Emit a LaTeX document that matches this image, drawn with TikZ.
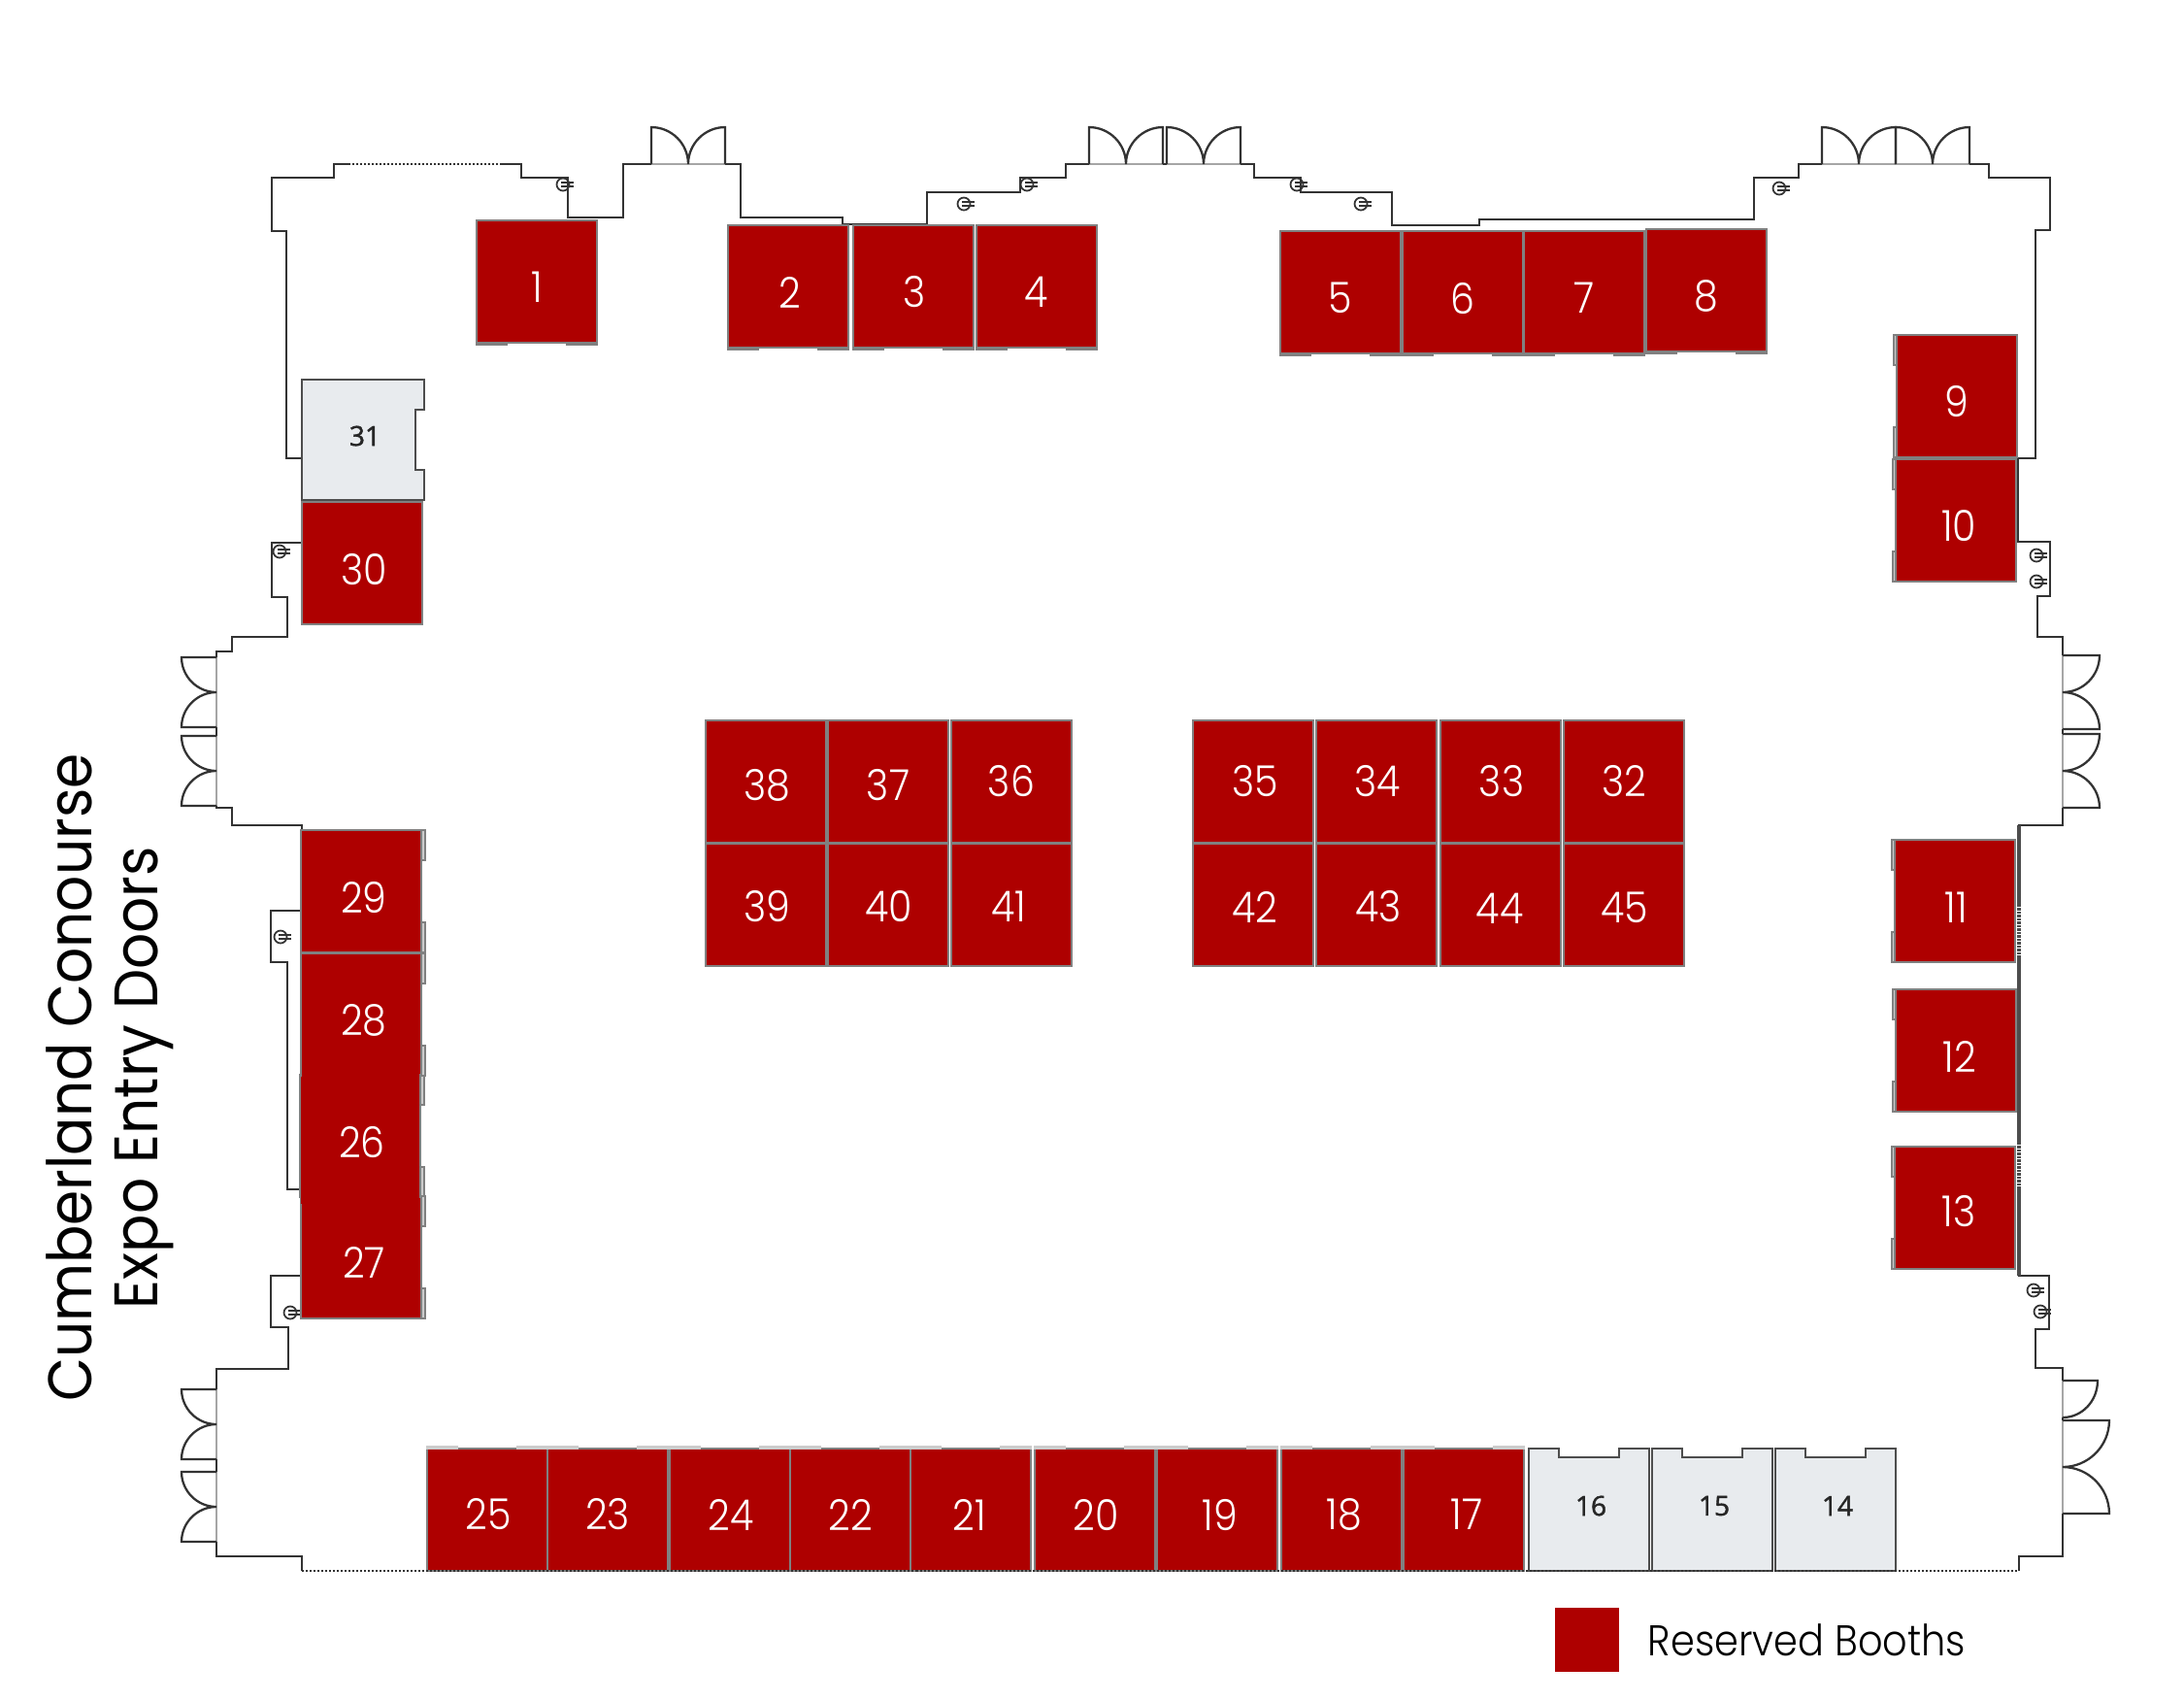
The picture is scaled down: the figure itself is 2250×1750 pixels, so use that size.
\documentclass[tikz,border=0pt]{standalone}
\usepackage{fontspec}
\usetikzlibrary{positioning}
\setmainfont{Poppins}[UprightFont=* Light, FakeStretch=0.9]
\newfontfamily\titlefont{Poppins}[FakeStretch=0.92]
\newfontfamily\graynumfont{Open Sans}[FakeBold=1.4]
\definecolor{boothred}{HTML}{AE0000}
\definecolor{boothgray}{HTML}{E8EBEE}
\definecolor{wallink}{HTML}{333333}
\definecolor{tabink}{HTML}{808080}
\tikzset{
  wall/.style      = {draw=wallink, line width=0.8pt, line join=miter},
  wallheavy/.style = {draw=tabink!60!black, line width=1.1pt},
  wallopen/.style  = {draw=wallink, line width=0.7pt, dash pattern=on 0.02cm off 0.02cm},
  wallhatch/.style = {draw=white, line width=1.6pt, dash pattern=on 0.01cm off 0.025cm},
  doorframe/.style = {draw=tabink!70, line width=0.8pt},
  doorleaf/.style  = {draw=wallink, line width=0.65pt},
  socket/.style    = {draw=wallink, line width=0.5pt},
  booth/.style     = {draw=tabink, line width=0.5pt, fill=boothred,
                      minimum width=1.24cm, minimum height=1.26cm, inner sep=0pt, outer sep=0pt},
  boothnum/.style  = {text=white, inner sep=0pt, font=\fontsize{12.5}{14}\selectfont},
  boothtab/.style  = {draw=tabink, line width=0.5pt, fill=tabink!40},
  boothtabfaint/.style = {draw=tabink!40, line width=0.5pt},
  openbooth/.style = {draw=tabink!60!black, line width=0.8pt, fill=boothgray},
  opennum/.style   = {text=black!85, inner sep=0pt, font=\graynumfont\fontsize{8}{10}\selectfont},
  legendbox/.style = {fill=boothred, minimum width=0.65cm, minimum height=0.66cm, inner sep=0pt},
  legendtext/.style= {inner sep=0pt, font=\fontsize{12.6}{14}\selectfont},
  sidetitle/.style = {rotate=90, align=center, inner sep=0pt, font=\titlefont\fontsize{18}{19.3}\selectfont}
}

\begin{document}
\begin{tikzpicture}[x=0.01cm, y=-0.01cm]
  \useasboundingbox (0,0) rectangle (2250,1750);

  % outer wall, clockwise from the end of the open stretch at the top
  \draw[wall] (517,169) -- (537,169) -- (537,183) -- (585,183) -- (585,224) -- (642,224)
    -- (642,169) -- (763,169) -- (763,224) -- (868,224) -- (868,231) -- (955,231)
    -- (955,198) -- (1051,198) -- (1051,183) -- (1098,183) -- (1098,169) -- (1292,169)
    -- (1292,183) -- (1340,183) -- (1340,198) -- (1434,198) -- (1434,232) -- (1524,232)
    -- (1524,226) -- (1807,226) -- (1807,183) -- (1853,183) -- (1853,169) -- (2049,169)
    -- (2049,183) -- (2112,183) -- (2112,237) -- (2097,237) -- (2097,472) -- (2079,472)
    -- (2079,558) -- (2112,558) -- (2112,614) -- (2099,614) -- (2099,656) -- (2125,656)
    -- (2125,850) -- (2080,850) -- (2080,1314) -- (2111,1314) -- (2111,1369) -- (2097,1369)
    -- (2097,1409) -- (2125,1409) -- (2125,1603) -- (2080,1603) -- (2080,1618);
  \draw[wall] (311,1618) -- (311,1603) -- (223,1603) -- (223,1410) -- (297,1410) -- (297,1367)
    -- (279,1367) -- (279,1314) -- (311,1314) -- (311,1225) -- (296,1225) -- (296,991)
    -- (279,991) -- (279,938) -- (311,938) -- (311,850) -- (239,850) -- (239,832) -- (223,832)
    -- (223,671) -- (239,671) -- (239,656) -- (296,656) -- (296,615) -- (280,615) -- (280,559)
    -- (311,559) -- (311,472) -- (295,472) -- (295,238) -- (280,238) -- (280,183) -- (344,183)
    -- (344,169) -- (359,169);
  \draw[wallheavy] (2080,850) -- (2080,1314);
  \draw[wallhatch] (2081,934) -- (2081,985);
  \draw[wallhatch] (2081,1179) -- (2081,1224);

  % double doors
  \foreach \dx/\dy/\rot/\rad in {709/169/180/38, 1160/169/180/38, 1240/169/180/38,
      1915/169/180/38, 1991/169/180/38, 223/713/-90/36, 223/794/-90/36, 223/1467/-90/36,
      223/1552/-90/36, 2125/713/90/38, 2125/794/90/38, 2125/1511/90/48}
  {
    \draw[doorframe, shift={(\dx,\dy)}, rotate=\rot] (-\rad,0) -- (\rad,0);
    \draw[doorleaf, shift={(\dx,\dy)}, rotate=\rot] (-\rad,0) -- (-\rad,\rad)
      .. controls (-.45*\rad,\rad) and (0,.55*\rad) .. (0,0)
      .. controls (0,.55*\rad) and (.45*\rad,\rad) .. (\rad,\rad) -- (\rad,0);
  }
  % the one single door
  \draw[doorframe] (2125,1422) -- (2125,1460);
  \draw[doorleaf] (2125,1422) -- (2161,1422) .. controls (2161,1443) and (2145,1460) .. (2125,1460);

  % wall sockets
  \foreach \sx/\sy in {580/190, 288/568, 1058/190, 993/210, 1336/190, 1402/210, 1833/194,
      2098/572, 2098/599, 2095/1329, 2102/1351, 289/965, 299/1352}
  {
    \draw[socket] (\sx,\sy) circle (6.5);
    \draw[socket] (\sx-2,\sy-2) -- (\sx+11,\sy-2);
    \draw[socket] (\sx-2,\sy+2) -- (\sx+11,\sy+2);
  }

  % reserved booths
  \foreach \n/\cx/\cy in {1/553/290, 2/812/295, 3/941/295, 4/1068/295,
      5/1381/301, 6/1507/301, 7/1632/301, 8/1758/299, 9/2016/408, 10/2015/536,
      11/2014/928, 12/2015/1082, 13/2014/1244,
      17/1508/1555, 18/1382/1555, 19/1254/1555, 20/1128/1555, 21/1000/1555,
      22/876/1555, 24/752/1555, 23/626/1555, 25/502/1555,
      26/371/1170, 27/372/1295, 28/372/1045, 29/372/918, 30/373/580,
      38/789/805, 37/915/805, 36/1042/805, 39/789/932, 40/915/932, 41/1042/932,
      35/1291/805, 34/1418/805, 33/1546/805, 32/1673/805,
      42/1291/932, 43/1418/932, 44/1546/932, 45/1673/932}
    \node[booth] (b\n) at (\cx,\cy) {};

  % no visible seam inside the run 28, 26, 27
  \fill[boothred] (b28.south west) ++(1,-8) rectangle ([xshift=-0.01cm,yshift=-0.08cm]b26.north east);
  \fill[boothred] (b26.south west) ++(1,-8) rectangle ([xshift=-0.01cm,yshift=-0.08cm]b27.north east);

  % the numbers sit a little off centre, each by its own amount
  \foreach \n/\tx/\ty in {1/0/6, 2/2/6, 3/1/6, 4/0/6, 5/0/6, 6/0/6, 7/0/6, 8/0/6, 9/0/6, 10/3/6,
      11/1/7, 12/4/6, 13/4/4, 17/3/5, 18/3/5, 19/3/5, 20/1/5, 21/-1/5, 22/0/5, 24/1/5, 23/0/5,
      25/1/5, 26/2/6, 27/3/5, 28/3/6, 29/3/7, 30/2/7, 38/1/4, 37/0/4, 36/0/0, 39/1/2, 40/1/2,
      41/-3/2, 35/2/0, 34/1/0, 33/1/0, 32/0/0, 42/2/2, 43/2/2, 44/-1/4, 45/1/3}
    \node[boothnum] (n\n) at ([shift={(\tx,\ty)}]b\n.center) {\n};

  % tabs on the open side of each booth
  \foreach \n in {1,...,8}
  {
    \draw[boothtab] (b\n.south west) rectangle ++(31,2);
    \draw[boothtab] (b\n.south east) rectangle ++(-31,2);
  }
  \foreach \n in {9,...,13}
  {
    \draw[boothtab] (b\n.north west) rectangle ++(-3,31);
    \draw[boothtab] (b\n.south west) rectangle ++(-3,-31);
  }
  \foreach \n in {26,...,29}
  {
    \draw[boothtab] (b\n.north east) rectangle ++(4,31);
    \draw[boothtab] (b\n.south east) rectangle ++(4,-31);
  }
  \foreach \n in {17,...,25}
  {
    \draw[boothtabfaint] (b\n.north west) rectangle ++(31,-2);
    \draw[boothtabfaint] (b\n.north east) rectangle ++(-31,-2);
  }

  % open booths with their notch
  \foreach \n/\cx/\cy/\rot in {16/1637/1555/0, 15/1764/1555/0, 14/1891/1555/0, 31/374/453/-90}
  {
    \draw[openbooth, shift={(\cx,\cy)}, rotate=\rot] (-62,-63) -- ++(31,0) -- ++(0,9) -- ++(62,0)
      -- ++(0,-9) -- ++(31,0) -- ++(0,126) -- ++(-124,0) -- cycle;
    \node[opennum] (n\n) at (\cx+2,\cy-4) {\n};
  }

  % open stretches of the wall
  \draw[wallopen] (359,169) -- (517,169);
  \draw[wallopen] (311,1618) -- (2080,1618);

  % title on the left
  \node[sidetitle] (doors) at (113,1110) {Cumberland Conourse\\Expo Entry Doors};

  % legend
  \node[legendbox] (key) at (1635,1689) {};
  \node[legendtext, right=0.29cm of key] (keytext) {Reserved Booths};
\end{tikzpicture}
\end{document}
